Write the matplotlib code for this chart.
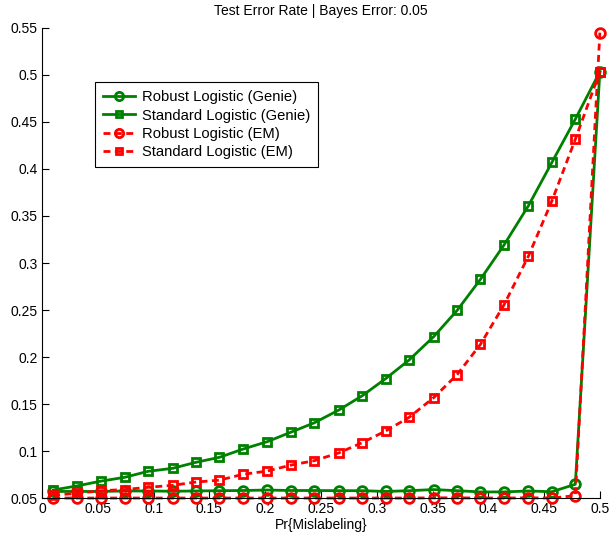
import matplotlib
matplotlib.use("Agg")
import matplotlib.pyplot as plt

plt.rcParams["font.family"] = ["Liberation Sans", "DejaVu Sans"]
plt.rcParams["font.size"] = 10

# mislabeling probability
p_mis = [0.010, 0.031, 0.053, 0.074, 0.095, 0.117, 0.138, 0.159,
         0.180, 0.202, 0.223, 0.244, 0.266, 0.287, 0.308, 0.329,
         0.351, 0.372, 0.393, 0.414, 0.436, 0.457, 0.478, 0.500]

robust_genie = [0.0570, 0.0570, 0.0570, 0.0575, 0.0575, 0.0572, 0.0575, 0.0578,
                0.0580, 0.0585, 0.0580, 0.0580, 0.0578, 0.0578, 0.0570, 0.0578,
                0.0590, 0.0578, 0.0565, 0.0565, 0.0575, 0.0567, 0.0646, 0.5035]

standard_genie = [0.0585, 0.0628, 0.0680, 0.0720, 0.0784, 0.0816, 0.0880, 0.0933,
                  0.1020, 0.1100, 0.1200, 0.1300, 0.1436, 0.1588, 0.1770, 0.1968,
                  0.2216, 0.2495, 0.2827, 0.3190, 0.3610, 0.4070, 0.4530, 0.5035]

robust_em = [0.0500, 0.0500, 0.0500, 0.0500, 0.0500, 0.0500, 0.0500, 0.0500,
             0.0500, 0.0500, 0.0500, 0.0500, 0.0500, 0.0500, 0.0500, 0.0500,
             0.0502, 0.0502, 0.0500, 0.0500, 0.0502, 0.0500, 0.0525, 0.5450]

standard_em = [0.0530, 0.0550, 0.0578, 0.0590, 0.0614, 0.0635, 0.0670, 0.0690,
               0.0752, 0.0787, 0.0850, 0.0897, 0.0980, 0.1089, 0.1213, 0.1358,
               0.1567, 0.1812, 0.2135, 0.2553, 0.3074, 0.3660, 0.4316, 0.5035]

GREEN = "#008000"
RED = "#ff0000"

fig = plt.figure(figsize=(6.09, 5.38), dpi=100)
ax = fig.add_axes([0.069, 0.0743, 0.916, 0.8737])

common = dict(linewidth=2, markeredgewidth=2, markerfacecolor="none", clip_on=False)
dash = (0, (2.5, 1.6))

ax.plot(p_mis, robust_genie, color=GREEN, marker="o", markersize=7, linestyle="-",
        label="Robust Logistic (Genie)", **common)
ax.plot(p_mis, standard_genie, color=GREEN, marker="s", markersize=5.5, linestyle="-",
        label="Standard Logistic (Genie)", **common)
ax.plot(p_mis, robust_em, color=RED, marker="o", markersize=7, linestyle=dash,
        label="Robust Logistic (EM)", **common)
ax.plot(p_mis, standard_em, color=RED, marker="s", markersize=5.5, linestyle=dash,
        label="Standard Logistic (EM)", **common)

ax.set_xlim(0, 0.5)
ax.set_ylim(0.05, 0.55)
ax.set_xticks([0, 0.05, 0.1, 0.15, 0.2, 0.25, 0.3, 0.35, 0.4, 0.45, 0.5])
ax.set_xticklabels(["0", "0.05", "0.1", "0.15", "0.2", "0.25", "0.3",
                    "0.35", "0.4", "0.45", "0.5"])
ax.set_yticks([0.05, 0.1, 0.15, 0.2, 0.25, 0.3, 0.35, 0.4, 0.45, 0.5, 0.55])
ax.set_yticklabels(["0.05", "0.1", "0.15", "0.2", "0.25", "0.3", "0.35",
                    "0.4", "0.45", "0.5", "0.55"])
ax.tick_params(direction="in", length=5, width=0.8, pad=3)
ax.spines["top"].set_visible(False)
ax.spines["right"].set_visible(False)

ax.set_title("Test Error Rate | Bayes Error: 0.05", fontsize=10, pad=9)
ax.set_xlabel("Pr{Mislabeling}", labelpad=1)

leg = ax.legend(loc="upper left", bbox_to_anchor=(95 / 609, 1 - 82 / 538),
                bbox_transform=fig.transFigure, fancybox=False,
                edgecolor="black", framealpha=1, fontsize=10.6,
                handlelength=2.2, handletextpad=0.45, labelspacing=0.3,
                borderpad=0.55, borderaxespad=0, markerscale=0.85)
leg.get_frame().set_linewidth(0.8)

fig.savefig("out.png", dpi=100)
